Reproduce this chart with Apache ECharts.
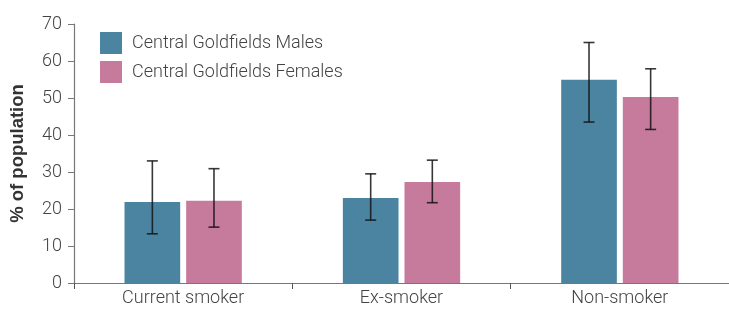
<!DOCTYPE html>
<html>
<head>
<meta charset="utf-8">
<script src="https://cdn.jsdelivr.net/npm/echarts@6/dist/echarts.min.js"></script>
<style>html,body{margin:0;padding:0;background:#fff;}#c{width:729px;height:309px;}</style>
</head>
<body>
<div id="c"></div>
<script>
var categories = ['Current smoker', 'Ex-smoker', 'Non-smoker'];
var seriesNames = ['Central Goldfields Males', 'Central Goldfields Females'];
var malesValues = [21.9, 23.0, 54.9];
var malesLow = [13.3, 17.0, 43.5];
var malesHigh = [33.0, 29.5, 65.0];
var femalesValues = [22.2, 27.3, 50.3];
var femalesLow = [15.1, 21.7, 41.5];
var femalesHigh = [30.9, 33.2, 57.9];
var yTicks = [0, 10, 20, 30, 40, 50, 60, 70];

var colors = ['#4b84a0', '#c77b9c'];
var barFrac = 0.255;
var gapFrac = 6 / 220;

function errRender(sign) {
  return function (params, api) {
    var x = api.value(0);
    var lo = api.coord([x, api.value(1)]);
    var hi = api.coord([x, api.value(2)]);
    var band = api.size([1, 0])[0];
    var off = sign * (band * barFrac + band * gapFrac) / 2;
    var cx = lo[0] + off;
    var cap = 5.5;
    var style = {stroke: 'rgba(20,20,20,0.85)', lineWidth: 1.6};
    return {
      type: 'group',
      children: [
        {type: 'line', shape: {x1: cx, y1: lo[1], x2: cx, y2: hi[1]}, style: style},
        {type: 'line', shape: {x1: cx - cap, y1: hi[1], x2: cx + cap, y2: hi[1]}, style: style},
        {type: 'line', shape: {x1: cx - cap, y1: lo[1], x2: cx + cap, y2: lo[1]}, style: style}
      ]
    };
  };
}

var chart = echarts.init(document.getElementById('c'));
chart.setOption({
  animation: false,
  grid: {left: 72, top: 24, width: 660, height: 259},
  legend: {
    left: 95, top: 27, orient: 'vertical', itemWidth: 22, itemHeight: 22, itemGap: 7,
    icon: 'rect',
    textStyle: {fontFamily: 'Roboto', fontSize: 18, color: '#444', fontWeight: 300, padding: [0, 0, 0, 5]},
    data: seriesNames
  },
  xAxis: {
    type: 'category', data: categories,
    axisLine: {lineStyle: {color: '#777', width: 1.2}},
    axisTick: {show: true, length: 6, lineStyle: {color: '#555'}},
    axisLabel: {fontFamily: 'Roboto', fontSize: 18, color: '#444', fontWeight: 300, margin: 6}
  },
  yAxis: {
    type: 'value', min: yTicks[0], max: yTicks[yTicks.length - 1], interval: 10,
    name: '% of population', nameLocation: 'middle', nameGap: 47, nameRotate: 90,
    nameTextStyle: {fontFamily: 'Liberation Sans', fontWeight: 'bold', fontSize: 18.5, color: '#333'},
    axisLine: {show: true, lineStyle: {color: '#777', width: 1.2}},
    axisTick: {show: true, length: 6, lineStyle: {color: '#777'}},
    splitLine: {show: false},
    axisLabel: {fontFamily: 'Roboto', fontSize: 18, color: '#444', fontWeight: 300, margin: 12}
  },
  series: [
    {name: seriesNames[0], type: 'bar', data: malesValues, barWidth: (barFrac * 100) + '%', barGap: '10.7%', itemStyle: {color: colors[0]}},
    {name: seriesNames[1], type: 'bar', data: femalesValues, barWidth: (barFrac * 100) + '%', itemStyle: {color: colors[1]}},
    {type: 'custom', renderItem: errRender(-1), data: categories.map(function (c, i) { return [i, malesLow[i], malesHigh[i]]; }), z: 10},
    {type: 'custom', renderItem: errRender(1), data: categories.map(function (c, i) { return [i, femalesLow[i], femalesHigh[i]]; }), z: 10}
  ]
});
</script>
</body>
</html>
